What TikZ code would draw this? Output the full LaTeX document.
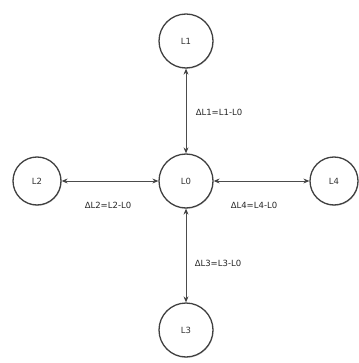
\documentclass[tikz,border=0pt]{standalone}
\usepackage{fontspec}
\setmainfont{DejaVu Sans}
\usetikzlibrary{positioning}
\usetikzlibrary{arrows.meta}
\usetikzlibrary{shadows}
\tikzset{
    lnode/.style={
        circle,                 % round level node
        draw=black!75,
        line width=1.3pt,
        fill=white,
        minimum size=54pt,
        inner sep=0pt,
        font=\fontsize{8.5}{10}\selectfont,
        text=black!80,
        drop shadow={shadow xshift=0.6pt, shadow yshift=-0.9pt, opacity=0.3}
    },
    dline/.style={
        draw=black!70,
        line width=0.7pt,
        {Stealth[length=6pt,width=5pt,fill=black]}-{Stealth[length=6pt,width=5pt,fill=black]}
    },
    dlabel/.style={
        font=\fontsize{8.5}{10}\selectfont,
        text=black!85,
        inner sep=0pt
    }
}

\begin{document}
\begin{tikzpicture}[x=1pt, y=-1pt]

\useasboundingbox (0,0) rectangle (358,363);

% level nodes
\node[lnode] (L0) at (186,181) {L0};
\node[lnode] (L1) at (186,41) {L1};
\node[lnode, minimum size=48pt] (L2) at (37,181) {L2};
\node[lnode, minimum size=48pt] (L4) at (334,181) {L4};
\node[lnode] (L3) at (186,330) {L3};

% differences
\draw[dline] (L1) -- (L0);
\draw[dline] (L2) -- (L0);
\draw[dline] (L0) -- (L4);
\draw[dline] (L0) -- (L3);

\node[dlabel] (D1) at (219,112) {ΔL1=L1-L0};
\node[dlabel] (D2) at (108,205) {ΔL2=L2-L0};
\node[dlabel] (D4) at (254,205) {ΔL4=L4-L0};
\node[dlabel] (D3) at (218,263) {ΔL3=L3-L0};

\end{tikzpicture}
\end{document}
